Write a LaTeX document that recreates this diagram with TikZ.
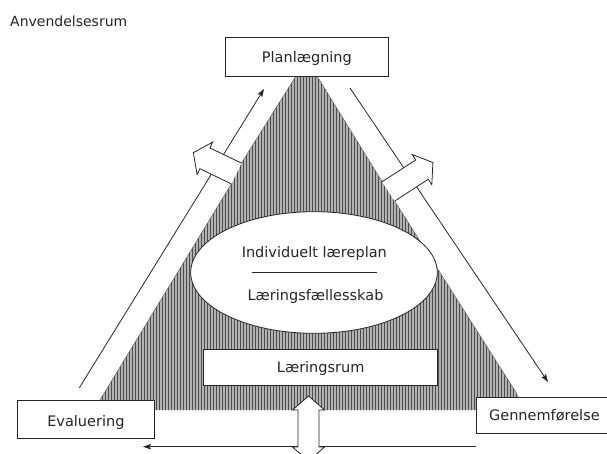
\documentclass[tikz,border=0pt]{standalone}
\usepackage{fontspec}
\setmainfont{DejaVu Sans}
\usetikzlibrary{patterns,arrows.meta,shapes.geometric}
\begin{document}
\begin{tikzpicture}[x=1pt,y=-1pt,
  txt/.style={inner sep=0pt, font=\fontsize{14.5}{17}\selectfont, text=black!85},
  box/.style={txt, draw=black!85, line width=0.8pt, fill=white, anchor=north west},
  thinarrow/.style={draw=black!85, line width=0.8pt, -{Stealth[length=8pt,width=5.5pt,inset=1.5pt]}},
  fat/.style={draw=black!85, line width=0.8pt, fill=white, line join=miter},
  hatch/.style={pattern=vertical lines, pattern color=black!70, preaction={fill=black!30}}]
\useasboundingbox (0,0) rectangle (607,454);

% hatched learning space
\path[hatch] (296,76) -- (241.4,163.1) -- (231.4,183.9) -- (100,400) -- (94,410)
  -- (527,410) -- (517,394) -- (394.7,201.1) -- (382.1,181.7) -- (317,76) -- cycle;
\draw[black!60, line width=0.5pt] (296,76) -- (241.4,163.1) (231.4,183.9) -- (100,400)
  (517,394) -- (394.7,201.1) (382.1,181.7) -- (317,76);

% title
\node[txt, anchor=base west, font=\fontsize{14}{17}\selectfont] (title) at (10,26.7) {Anvendelsesrum};

% ellipse
\node[ellipse, draw=black!85, line width=0.8pt, fill=white, minimum width=246.6pt, minimum height=121.6pt, inner sep=0pt] (ell) at (314,272.5) {};
\node[txt, anchor=base] (indiv) at (314.3,257.3) {Individuelt læreplan};
\draw[black!85, line width=0.7pt] (251.7,272.3) -- (376.7,272.3);
\node[txt, anchor=base] (faelles) at (315.5,300) {Læringsfællesskab};

% Læringsrum
\node[box, minimum width=234pt, text height=22.7pt, text depth=13.3pt] (rum) at (203.3,349) {Læringsrum};

% thin cycle arrows
\coordinate (evTop) at (79.4,387.7);
\coordinate (plL) at (264,89);
\coordinate (plR) at (350,88);
\coordinate (geTop) at (548,382);
\coordinate (geL) at (476,446.7);
\coordinate (evB) at (143,446.7);
\draw[thinarrow] (evTop) -- (plL);
\draw[thinarrow] (plR) -- (geTop);
\draw[thinarrow] (geL) -- (evB);

% fat hollow arrows
\path[fat] (241.4,163.1) -- (209.9,147.9) -- (212.7,142.1) -- (193.3,152.7)
  -- (197.1,174.5) -- (199.9,168.7) -- (231.4,183.9);
\path[fat] (382.1,181.7) -- (415.7,160.0) -- (412.2,154.5) -- (432.9,162.5)
  -- (431.8,184.7) -- (428.2,179.3) -- (394.7,201.1);
\path[fat] (308.5,396) -- (292.5,410) -- (298,410) -- (298,447) -- (292.5,447)
  -- (308.5,461) -- (324.5,447) -- (319,447) -- (319,410) -- (324.5,410) -- cycle;

% phase boxes
\node[box, minimum width=163pt, text height=24.7pt, text depth=14.3pt] (plan) at (225,37) {Planlægning};
\node[box, minimum width=137pt, text height=25.7pt, text depth=12.3pt] (eval) at (17,400) {Evaluering};
\node[box, minimum width=136pt, text height=23pt, text depth=13pt] (gen) at (476,397) {Gennemførelse};
\end{tikzpicture}
\end{document}
